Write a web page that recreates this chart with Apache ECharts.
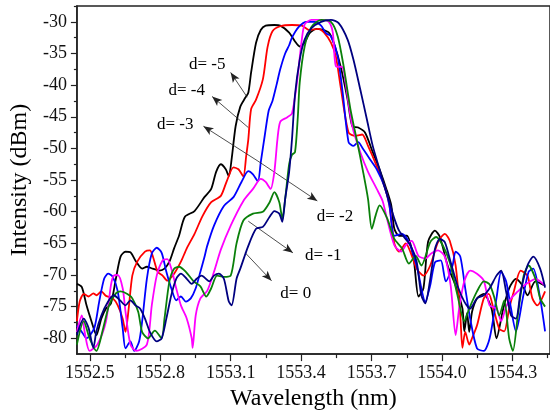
<!DOCTYPE html>
<html>
<head>
<meta charset="utf-8">
<script src="https://cdn.jsdelivr.net/npm/echarts@6/dist/echarts.min.js"></script>
<style>
  html, body { margin: 0; padding: 0; background: #fff; }
  #main { width: 550px; height: 416px; }
</style>
</head>
<body>
<div id="main"></div>
<script>
// spectra, [wavelength nm, intensity dBm]
const dm5 = [[1552.445,-71.4],[1552.466,-71.9],[1552.486,-74.8],[1552.507,-77.3],[1552.528,-79.5],[1552.549,-76.9],[1552.569,-75.3],[1552.590,-74.5],[1552.611,-70.6],[1552.631,-67.1],[1552.652,-66.3],[1552.673,-66.4],[1552.694,-67.7],[1552.723,-69.0],[1552.743,-68.7],[1552.768,-69.0],[1552.797,-69.3],[1552.818,-69.0],[1552.839,-67.9],[1552.859,-65.8],[1552.880,-63.8],[1552.905,-60.8],[1552.946,-59.9],[1552.988,-57.7],[1553.017,-56.4],[1553.038,-53.7],[1553.058,-52.5],[1553.079,-53.3],[1553.092,-54.4],[1553.104,-51.7],[1553.121,-46.5],[1553.141,-43.4],[1553.162,-42.0],[1553.175,-41.2],[1553.187,-38.0],[1553.208,-33.3],[1553.228,-31.3],[1553.249,-30.6],[1553.286,-30.5],[1553.311,-30.6],[1553.349,-31.7],[1553.374,-33.1],[1553.394,-33.9],[1553.415,-33.3],[1553.436,-31.8],[1553.465,-31.1],[1553.485,-31.2],[1553.518,-31.7],[1553.539,-33.3],[1553.568,-37.0],[1553.598,-42.3],[1553.618,-46.5],[1553.643,-46.7],[1553.672,-47.5],[1553.705,-50.6],[1553.734,-53.3],[1553.763,-56.4],[1553.784,-59.0],[1553.797,-62.7],[1553.817,-63.8],[1553.850,-63.8],[1553.879,-67.4],[1553.900,-73.4],[1553.921,-72.1],[1553.941,-64.7],[1553.970,-63.0],[1553.991,-64.0],[1554.024,-68.5],[1554.058,-71.7],[1554.087,-75.3],[1554.095,-78.9],[1554.107,-76.0],[1554.116,-79.0],[1554.128,-75.8],[1554.149,-73.7],[1554.178,-73.0],[1554.211,-75.3],[1554.232,-80.0],[1554.261,-75.3],[1554.286,-72.1],[1554.315,-70.6],[1554.344,-71.7],[1554.364,-73.2],[1554.398,-71.0],[1554.439,-71.7]];

const dm4 = [[1552.445,-77.3],[1552.457,-74.2],[1552.474,-73.0],[1552.495,-73.4],[1552.515,-72.9],[1552.528,-73.2],[1552.549,-72.6],[1552.569,-73.3],[1552.598,-73.7],[1552.619,-74.8],[1552.640,-76.9],[1552.652,-79.0],[1552.665,-75.5],[1552.681,-70.1],[1552.702,-67.9],[1552.735,-66.3],[1552.756,-66.1],[1552.768,-67.0],[1552.789,-69.5],[1552.810,-70.1],[1552.830,-70.9],[1552.859,-69.8],[1552.888,-67.9],[1552.913,-65.8],[1552.946,-63.5],[1552.980,-60.7],[1553.017,-58.5],[1553.058,-57.5],[1553.083,-55.2],[1553.112,-53.0],[1553.133,-53.3],[1553.154,-54.4],[1553.166,-51.2],[1553.175,-48.6],[1553.187,-43.8],[1553.208,-42.3],[1553.237,-39.1],[1553.257,-34.0],[1553.278,-31.5],[1553.311,-30.7],[1553.361,-30.5],[1553.403,-30.6],[1553.436,-31.3],[1553.473,-31.1],[1553.498,-31.7],[1553.527,-33.3],[1553.548,-35.5],[1553.568,-40.2],[1553.602,-47.5],[1553.631,-48.0],[1553.660,-47.8],[1553.685,-49.6],[1553.722,-52.8],[1553.755,-56.0],[1553.776,-59.0],[1553.797,-65.0],[1553.817,-66.3],[1553.846,-65.0],[1553.867,-66.5],[1553.892,-69.0],[1553.921,-70.1],[1553.950,-68.5],[1553.983,-64.8],[1554.012,-63.5],[1554.033,-64.6],[1554.058,-68.5],[1554.078,-76.4],[1554.087,-81.5],[1554.099,-79.0],[1554.116,-81.0],[1554.128,-80.0],[1554.149,-78.0],[1554.178,-73.7],[1554.199,-73.0],[1554.219,-75.3],[1554.244,-78.5],[1554.265,-78.9],[1554.286,-75.3],[1554.306,-72.6],[1554.335,-69.3],[1554.364,-70.1],[1554.385,-73.7],[1554.406,-74.8],[1554.439,-72.6]];

const dm3 = [[1552.445,-78.0],[1552.466,-79.0],[1552.486,-80.0],[1552.519,-78.4],[1552.540,-74.2],[1552.561,-70.6],[1552.578,-69.8],[1552.598,-70.3],[1552.619,-72.6],[1552.640,-78.4],[1552.652,-81.6],[1552.673,-80.5],[1552.689,-82.0],[1552.710,-80.5],[1552.723,-77.3],[1552.743,-70.6],[1552.764,-66.6],[1552.785,-65.7],[1552.806,-66.5],[1552.826,-69.5],[1552.847,-72.1],[1552.868,-74.0],[1552.888,-73.4],[1552.909,-74.2],[1552.930,-73.7],[1552.951,-72.1],[1552.971,-69.5],[1552.988,-67.2],[1553.000,-65.4],[1553.029,-62.2],[1553.071,-59.1],[1553.112,-57.7],[1553.146,-55.3],[1553.175,-53.6],[1553.195,-54.1],[1553.216,-55.2],[1553.228,-52.2],[1553.245,-48.0],[1553.262,-44.0],[1553.278,-42.5],[1553.295,-40.0],[1553.311,-37.5],[1553.332,-35.0],[1553.349,-33.7],[1553.361,-32.5],[1553.390,-30.8],[1553.423,-30.0],[1553.457,-30.0],[1553.485,-30.6],[1553.506,-31.8],[1553.527,-32.3],[1553.556,-35.5],[1553.577,-41.2],[1553.602,-49.0],[1553.623,-49.6],[1553.643,-49.0],[1553.664,-50.1],[1553.693,-51.7],[1553.722,-53.3],[1553.755,-56.0],[1553.776,-59.0],[1553.797,-63.8],[1553.830,-63.5],[1553.859,-64.8],[1553.892,-68.5],[1553.929,-74.2],[1553.950,-71.6],[1553.970,-68.0],[1553.995,-67.7],[1554.016,-71.0],[1554.045,-68.5],[1554.058,-66.3],[1554.078,-67.1],[1554.099,-72.1],[1554.120,-76.9],[1554.149,-81.6],[1554.178,-82.0],[1554.203,-80.0],[1554.232,-73.7],[1554.252,-69.5],[1554.273,-71.0],[1554.294,-75.3],[1554.315,-78.9],[1554.344,-73.7],[1554.369,-69.5],[1554.389,-69.0],[1554.418,-73.7],[1554.439,-78.9]];

const dm2 = [[1552.445,-79.0],[1552.466,-76.4],[1552.478,-79.0],[1552.499,-82.0],[1552.532,-81.0],[1552.569,-77.3],[1552.590,-71.6],[1552.602,-70.1],[1552.619,-70.0],[1552.640,-72.1],[1552.652,-75.8],[1552.673,-81.0],[1552.698,-82.0],[1552.743,-81.0],[1552.764,-74.8],[1552.785,-70.1],[1552.810,-67.7],[1552.830,-67.5],[1552.851,-69.5],[1552.868,-72.1],[1552.888,-74.8],[1552.913,-76.9],[1552.934,-80.0],[1552.938,-81.5],[1552.951,-76.4],[1552.971,-73.7],[1553.000,-72.5],[1553.029,-69.5],[1553.058,-66.0],[1553.100,-62.2],[1553.154,-58.3],[1553.195,-56.4],[1553.228,-54.8],[1553.249,-55.3],[1553.270,-56.4],[1553.286,-53.7],[1553.299,-48.6],[1553.311,-45.8],[1553.340,-45.1],[1553.361,-44.5],[1553.382,-39.6],[1553.403,-32.8],[1553.415,-30.4],[1553.444,-29.7],[1553.485,-29.7],[1553.518,-30.0],[1553.535,-31.7],[1553.548,-37.0],[1553.577,-37.2],[1553.589,-39.6],[1553.618,-46.5],[1553.652,-50.6],[1553.685,-53.7],[1553.722,-56.4],[1553.747,-58.3],[1553.763,-60.7],[1553.797,-65.3],[1553.826,-66.3],[1553.846,-65.3],[1553.871,-64.6],[1553.900,-67.0],[1553.929,-67.4],[1553.954,-66.6],[1553.983,-66.1],[1554.012,-67.1],[1554.037,-71.7],[1554.058,-79.5],[1554.074,-75.0],[1554.095,-71.0],[1554.120,-69.3],[1554.149,-69.8],[1554.178,-70.9],[1554.203,-74.8],[1554.232,-75.3],[1554.252,-77.3],[1554.273,-75.0],[1554.294,-73.7],[1554.323,-72.6],[1554.348,-71.7],[1554.377,-71.0],[1554.398,-70.6],[1554.439,-71.7]];

const dm1 = [[1552.445,-81.0],[1552.474,-77.3],[1552.499,-80.0],[1552.528,-82.0],[1552.557,-78.4],[1552.582,-74.8],[1552.611,-72.9],[1552.631,-72.6],[1552.660,-73.0],[1552.681,-73.7],[1552.706,-75.8],[1552.723,-79.0],[1552.748,-80.0],[1552.777,-78.8],[1552.806,-80.0],[1552.818,-76.9],[1552.839,-71.0],[1552.859,-69.0],[1552.880,-68.7],[1552.909,-69.5],[1552.942,-71.0],[1552.971,-71.8],[1552.996,-73.4],[1553.017,-72.1],[1553.042,-70.1],[1553.071,-70.3],[1553.100,-70.1],[1553.125,-65.0],[1553.154,-61.4],[1553.195,-60.3],[1553.237,-60.0],[1553.266,-58.5],[1553.286,-56.9],[1553.307,-58.5],[1553.320,-61.1],[1553.332,-58.0],[1553.349,-52.5],[1553.361,-51.0],[1553.374,-50.6],[1553.386,-45.0],[1553.394,-39.6],[1553.415,-33.9],[1553.444,-30.8],[1553.485,-29.7],[1553.527,-30.0],[1553.556,-32.3],[1553.581,-37.0],[1553.610,-43.8],[1553.639,-49.0],[1553.664,-53.7],[1553.685,-58.0],[1553.701,-62.7],[1553.718,-60.5],[1553.734,-59.0],[1553.767,-61.1],[1553.797,-64.3],[1553.830,-65.8],[1553.859,-68.2],[1553.888,-67.0],[1553.912,-68.5],[1553.950,-64.8],[1553.975,-64.0],[1554.003,-65.3],[1554.033,-68.0],[1554.066,-73.2],[1554.095,-77.3],[1554.116,-75.3],[1554.149,-72.6],[1554.178,-71.0],[1554.203,-71.5],[1554.224,-73.7],[1554.244,-76.4],[1554.265,-74.0],[1554.286,-80.0],[1554.302,-82.0],[1554.323,-76.4],[1554.348,-70.1],[1554.369,-68.5],[1554.398,-70.6],[1554.418,-73.7],[1554.439,-75.0]];

const d0 = [[1552.445,-79.5],[1552.474,-76.9],[1552.495,-78.4],[1552.515,-81.5],[1552.528,-78.9],[1552.549,-76.4],[1552.578,-74.2],[1552.602,-73.2],[1552.631,-74.1],[1552.652,-74.8],[1552.673,-74.0],[1552.694,-74.8],[1552.714,-75.3],[1552.735,-76.9],[1552.756,-79.0],[1552.785,-80.5],[1552.806,-80.0],[1552.826,-76.9],[1552.847,-73.2],[1552.868,-70.6],[1552.888,-69.8],[1552.913,-70.6],[1552.934,-71.4],[1552.955,-70.6],[1552.976,-70.1],[1553.009,-71.0],[1553.029,-70.1],[1553.050,-69.8],[1553.071,-70.6],[1553.092,-74.2],[1553.104,-74.8],[1553.125,-70.6],[1553.141,-69.0],[1553.175,-65.4],[1553.208,-62.7],[1553.237,-62.4],[1553.266,-60.8],[1553.286,-59.9],[1553.307,-60.3],[1553.320,-61.6],[1553.332,-58.0],[1553.349,-53.7],[1553.361,-48.6],[1553.374,-41.5],[1553.394,-36.0],[1553.415,-32.8],[1553.444,-31.0],[1553.485,-30.0],[1553.527,-29.7],[1553.560,-30.2],[1553.598,-32.8],[1553.623,-36.0],[1553.652,-40.7],[1553.680,-45.4],[1553.705,-49.6],[1553.734,-53.3],[1553.755,-56.0],[1553.776,-58.5],[1553.797,-61.1],[1553.817,-63.0],[1553.838,-64.0],[1553.867,-65.4],[1553.892,-67.9],[1553.912,-73.2],[1553.929,-74.5],[1553.950,-70.6],[1553.970,-65.9],[1553.991,-64.3],[1554.012,-64.8],[1554.037,-68.0],[1554.066,-71.7],[1554.095,-74.2],[1554.120,-75.3],[1554.149,-73.7],[1554.178,-73.2],[1554.203,-72.1],[1554.232,-70.1],[1554.252,-69.3],[1554.273,-72.6],[1554.294,-76.4],[1554.315,-76.9],[1554.335,-72.6],[1554.364,-68.5],[1554.389,-67.1],[1554.418,-69.0],[1554.439,-72.0]];

const seriesNames = ['d= -5', 'd= -4', 'd= -3', 'd= -2', 'd= -1', 'd= 0'];
const seriesColors = ['#000000', '#ff0000', '#0000ff', '#ff00ff', '#0a800a', '#000080'];
const seriesData = [dm5, dm4, dm3, dm2, dm1, d0];

const xTicks = [1552.5, 1552.8, 1553.1, 1553.4, 1553.7, 1554.0, 1554.3];
const xMinor = [1552.65, 1552.95, 1553.25, 1553.55, 1553.85, 1554.15, 1554.45];
const yTicks = [-30, -35, -40, -45, -50, -55, -60, -65, -70, -75, -80];
const yMinor = [-27.5, -32.5, -37.5, -42.5, -47.5, -52.5, -57.5, -62.5, -67.5, -72.5, -77.5];

// labels with arrows: text position, arrow tail, arrow head
const notes = [
  { text: 'd= -5', at: [1553.000, -36.8], from: [1553.170, -41.9], to: [1553.100, -38.0] },
  { text: 'd= -4', at: [1552.913, -40.9], from: [1553.175, -46.7], to: [1553.021, -41.8] },
  { text: 'd= -3', at: [1552.864, -46.2], from: [1553.216, -52.0], to: [1552.984, -46.5] },
  { text: 'd= -2', at: [1553.544, -60.8], from: [1553.216, -52.0], to: [1553.469, -58.3] },
  { text: 'd= -1', at: [1553.494, -67.0], from: [1553.175, -61.5], to: [1553.365, -66.5] },
  { text: 'd= 0',  at: [1553.377, -72.9], from: [1553.162, -66.5], to: [1553.274, -70.9] }
];

const serif = "'Liberation Serif', 'Times New Roman', serif";
const xMin = 1552.445, xMax = 1554.460;
const yMin = -82.5, yMax = -27.5;

const chart = echarts.init(document.getElementById('main'));

const series = seriesData.map((d, i) => ({
  name: seriesNames[i],
  type: 'line',
  data: d,
  showSymbol: false,
  smooth: 0.25,
  clip: true,
  lineStyle: { color: seriesColors[i], width: 1.8 },
  itemStyle: { color: seriesColors[i] },
  z: 2 + i
}));

series.push({
  type: 'line',
  data: [],
  silent: true,
  z: 20,
  markLine: {
    silent: true,
    animation: false,
    symbolSize: [6, 10],
    label: { show: false },
    lineStyle: { color: '#222', width: 0.8, type: 'solid' },
    emphasis: { disabled: true },
    data: notes.map(n => [
      { coord: n.from, symbol: 'none' },
      { coord: n.to, symbol: 'arrow' }
    ])
  },
  markPoint: {
    silent: true,
    animation: false,
    symbol: 'circle',
    symbolSize: 0,
    label: {
      show: true,
      position: 'inside',
      color: '#000',
      fontFamily: serif,
      fontSize: 17,
      formatter: p => p.name
    },
    data: notes.map(n => ({ name: n.text, coord: n.at }))
  }
});

const tickLine = { color: '#222', width: 1.2 };

const option = {
  animation: false,
  backgroundColor: '#fff',
  grid: {
    left: 69, right: -5, top: 6, bottom: 60,
    show: true, borderColor: '#222', borderWidth: 1.5, backgroundColor: 'transparent'
  },
  xAxis: [
    {
      type: 'value', min: xMin, max: xMax,
      name: 'Wavelength (nm)', nameLocation: 'middle', nameGap: 30,
      nameTextStyle: { fontFamily: serif, fontSize: 24, color: '#000' },
      axisLine: { show: true, lineStyle: { color: '#222', width: 1.5 } },
      axisTick: { show: true, inside: false, length: 7, customValues: xTicks, lineStyle: tickLine },
      axisLabel: { customValues: xTicks, margin: 10, fontFamily: serif, fontSize: 18, color: '#111', formatter: v => v.toFixed(1) },
      splitLine: { show: false }
    },
    {
      type: 'value', min: xMin, max: xMax, position: 'bottom',
      axisLine: { show: false },
      axisTick: { show: true, inside: false, length: 4, customValues: xMinor, lineStyle: tickLine },
      axisLabel: { show: false },
      splitLine: { show: false }
    }
  ],
  yAxis: [
    {
      type: 'value', min: yMin, max: yMax,
      name: 'Intensity (dBm)', nameLocation: 'middle', nameGap: 40,
      nameTextStyle: { fontFamily: serif, fontSize: 24, color: '#000' },
      axisLine: { show: true, lineStyle: { color: '#222', width: 1.5 } },
      axisTick: { show: true, inside: false, length: 6, customValues: yTicks, lineStyle: tickLine },
      axisLabel: { customValues: yTicks, margin: 10, fontFamily: serif, fontSize: 18, color: '#111' },
      splitLine: { show: false }
    },
    {
      type: 'value', min: yMin, max: yMax, position: 'left',
      axisLine: { show: false },
      axisTick: { show: true, inside: false, length: 3, customValues: yMinor, lineStyle: tickLine },
      axisLabel: { show: false },
      splitLine: { show: false }
    }
  ],
  series: series
};

chart.setOption(option);
</script>
</body>
</html>
